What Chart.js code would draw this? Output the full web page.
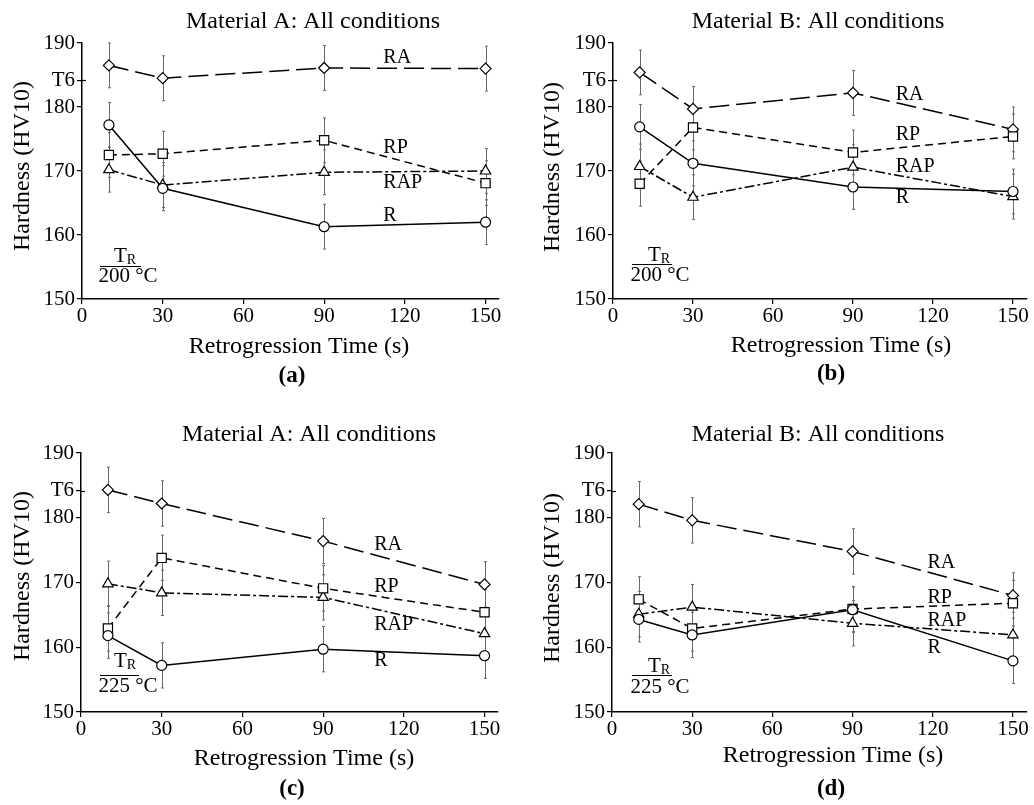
<!DOCTYPE html>
<html lang="en">
<head>
<meta charset="UTF-8">
<title>Hardness vs retrogression time</title>
<script src="https://cdn.jsdelivr.net/npm/chart.js"></script>
<style>
  body { margin: 0; background: #fff; }
  #wrap { position: relative; width: 1034px; height: 805px; }
  canvas { position: absolute; }
</style>
</head>
<body>
<div id="wrap">
  <canvas id="chartA" width="517" height="400" style="left:0;top:0"></canvas>
  <canvas id="chartB" width="517" height="400" style="left:517px;top:0"></canvas>
  <canvas id="chartC" width="517" height="405" style="left:0;top:400px"></canvas>
  <canvas id="chartD" width="517" height="405" style="left:517px;top:400px"></canvas>
</div>
<script>
// retrogression times (s) and axis ticks
const times = [10, 30, 90, 150];
const xTicks = [0, 30, 60, 90, 120, 150];
const yTicks = [150, 160, 170, 180, 190];
const t6Value = 184.2;
const errHalf = 3.5;   // error bar half height (HV10)

const seriesNames = ['R', 'RP', 'RAP', 'RA'];

// (a) Material A, 200 °C
const aR   = [177.2, 167.3, 161.3, 162.0];
const aRP  = [172.5, 172.7, 174.8, 168.1];
const aRAP = [170.2, 167.8, 169.8, 170.0];
const aRA  = [186.5, 184.5, 186.1, 186.0];

// (b) Material B, 200 °C
const bR   = [176.9, 171.2, 167.5, 166.8];
const bRP  = [168.0, 176.8, 172.9, 175.4];
const bRAP = [170.7, 165.9, 170.6, 166.0];
const bRA  = [185.4, 179.7, 182.2, 176.5];

// (c) Material A, 225 °C
const cR   = [161.8, 157.2, 159.7, 158.7];
const cRP  = [162.9, 173.8, 169.1, 165.4];
const cRAP = [169.8, 168.4, 167.7, 162.1];
const cRA  = [184.3, 182.2, 176.4, 169.7];

// (d) Material B, 225 °C
const dR   = [164.3, 161.9, 165.8, 157.9];
const dRP  = [167.4, 162.9, 165.9, 166.8];
const dRAP = [165.1, 166.2, 163.7, 161.9];
const dRA  = [182.1, 179.6, 174.8, 168.0];

// where the series names sit, in data units [x, y] for R, RP, RAP, RA
const aLabelPos = [[112, 163.0], [112, 173.7], [112, 168.1], [112, 187.7]];
const bLabelPos = [[106, 165.8], [106, 175.6], [106, 170.6], [106, 181.9]];
const cLabelPos = [[109, 157.9], [109, 169.3], [109, 163.4], [109, 175.8]];
const dLabelPos = [[118, 160.0], [118, 167.7], [118, 164.1], [118, 173.0]];

const FONT = '"Liberation Serif", "Times New Roman", serif';

const styles = [
  { dash: [],            point: 'circle',   radius: 5 },
  { dash: [8, 5],        point: 'rect',     radius: 6.5 },
  { dash: [10, 3, 3, 3], point: 'triangle', radius: 6 },
  { dash: [20, 7],       point: 'rectRot',  radius: 5.5 }
];

const panels = [
  { id: 'chartA', series: [aR, aRP, aRAP, aRA], labels: aLabelPos,
    title: 'Material A: All conditions', temp: '200 °C', letter: '(a)',
    area: { left: 82, right: 499, top: 43, bottom: 299 },
    titleAt: [313, 22], xTitleAt: [299, 347], yTitleAt: [23, 166], letterAt: [292, 376],
    tr: { cx: 125, ty: 256, line: [100, 141, 266], bx: 128, by: 276 } },
  { id: 'chartB', series: [bR, bRP, bRAP, bRA], labels: bLabelPos,
    title: 'Material B: All conditions', temp: '200 °C', letter: '(b)',
    area: { left: 96, right: 512, top: 43, bottom: 299 },
    titleAt: [301, 22], xTitleAt: [324, 346], yTitleAt: [36, 167], letterAt: [314, 374],
    tr: { cx: 142, ty: 255, line: [115, 155, 264], bx: 143, by: 275 } },
  { id: 'chartC', series: [cR, cRP, cRAP, cRA], labels: cLabelPos,
    title: 'Material A: All conditions', temp: '225 °C', letter: '(c)',
    area: { left: 81, right: 498, top: 53, bottom: 312 },
    titleAt: [309, 35], xTitleAt: [304, 359], yTitleAt: [23, 176], letterAt: [292, 389],
    tr: { cx: 125, ty: 261, line: [100, 139, 275], bx: 128, by: 286 } },
  { id: 'chartD', series: [dR, dRP, dRAP, dRA], labels: dLabelPos,
    title: 'Material B: All conditions', temp: '225 °C', letter: '(d)',
    area: { left: 95, right: 512, top: 53, bottom: 312 },
    titleAt: [301, 35], xTitleAt: [316, 356], yTitleAt: [36, 178], letterAt: [314, 389],
    tr: { cx: 142, ty: 266, line: [115, 155, 275], bx: 143, by: 287 } }
];

const overlay = {
  id: 'overlay',
  beforeDatasetsDraw(chart, args, opts) {
    const ctx = chart.ctx, xs = chart.scales.x, ys = chart.scales.y;
    ctx.save();
    ctx.strokeStyle = '#6a6a6a';
    ctx.lineWidth = 1;
    chart.data.datasets.forEach(ds => {
      ds.data.forEach(p => {
        const px = Math.round(xs.getPixelForValue(p.x)) + 0.5;
        const y1 = ys.getPixelForValue(p.y + errHalf);
        const y2 = ys.getPixelForValue(p.y - errHalf);
        ctx.beginPath();
        ctx.moveTo(px, y1); ctx.lineTo(px, y2);
        ctx.moveTo(px - 1.5, y1); ctx.lineTo(px + 1.5, y1);
        ctx.moveTo(px - 1.5, y2); ctx.lineTo(px + 1.5, y2);
        ctx.stroke();
      });
    });
    // the T6 tick crosses the axis
    const ty = Math.round(ys.getPixelForValue(t6Value)) + 0.5;
    ctx.strokeStyle = '#000';
    ctx.lineWidth = 1.2;
    ctx.beginPath();
    ctx.moveTo(chart.chartArea.left, ty);
    ctx.lineTo(chart.chartArea.left + 4, ty);
    ctx.stroke();
    ctx.restore();
  },
  afterDraw(chart, args, opts) {
    const p = opts.panel;
    const ctx = chart.ctx, xs = chart.scales.x, ys = chart.scales.y;
    ctx.save();
    ctx.fillStyle = '#000';
    ctx.strokeStyle = '#000';
    ctx.textBaseline = 'middle';

    ctx.textAlign = 'center';
    ctx.font = '24px ' + FONT;
    ctx.fillText(p.title, p.titleAt[0], p.titleAt[1]);
    ctx.fillText('Retrogression Time (s)', p.xTitleAt[0], p.xTitleAt[1]);
    ctx.font = 'bold 23px ' + FONT;
    ctx.fillText(p.letter, p.letterAt[0], p.letterAt[1]);

    ctx.save();
    ctx.translate(p.yTitleAt[0], p.yTitleAt[1]);
    ctx.rotate(-Math.PI / 2);
    ctx.font = '24px ' + FONT;
    ctx.fillText('Hardness (HV10)', 0, 0);
    ctx.restore();

    // series names
    ctx.textAlign = 'left';
    ctx.font = '20px ' + FONT;
    seriesNames.forEach((name, i) => {
      const pos = p.labels[i];
      ctx.fillText(name, xs.getPixelForValue(pos[0]), ys.getPixelForValue(pos[1]));
    });

    // T_R over temperature
    const tr = p.tr;
    ctx.font = '21px ' + FONT;
    const tW = ctx.measureText('T').width;
    ctx.font = '14px ' + FONT;
    const rW = ctx.measureText('R').width;
    const startX = tr.cx - (tW + rW) / 2;
    ctx.font = '21px ' + FONT;
    ctx.fillText('T', startX, tr.ty);
    ctx.font = '14px ' + FONT;
    ctx.fillText('R', startX + tW, tr.ty + 4);
    ctx.lineWidth = 1.2;
    ctx.beginPath();
    ctx.moveTo(tr.line[0], tr.line[2] + 0.5);
    ctx.lineTo(tr.line[1], tr.line[2] + 0.5);
    ctx.stroke();
    ctx.textAlign = 'center';
    ctx.font = '21px ' + FONT;
    ctx.fillText(p.temp, tr.bx, tr.by);
    ctx.restore();
  }
};

panels.forEach(p => {
  const canvas = document.getElementById(p.id);
  const W = canvas.width, H = canvas.height;
  const datasets = p.series.map((vals, i) => ({
    label: seriesNames[i],
    data: times.map((t, j) => ({ x: t, y: vals[j] })),
    borderColor: '#000',
    borderWidth: 1.5,
    borderDash: styles[i].dash,
    pointStyle: styles[i].point,
    pointRadius: styles[i].radius,
    pointBackgroundColor: '#fff',
    pointBorderColor: '#000',
    pointBorderWidth: 1.2,
    fill: false,
    tension: 0
  }));

  new Chart(canvas, {
    type: 'line',
    data: { datasets },
    options: {
      responsive: false,
      animation: false,
      layout: { padding: { top: p.area.top, right: W - p.area.right, left: 0, bottom: 0 } },
      plugins: {
        legend: { display: false },
        tooltip: { enabled: false },
        overlay: { panel: p }
      },
      scales: {
        x: {
          type: 'linear',
          min: 0,
          max: 155,
          afterBuildTicks: s => { s.ticks = xTicks.map(v => ({ value: v })); },
          afterFit: s => { s.height = H - p.area.bottom; },
          grid: { drawOnChartArea: false, drawTicks: true, tickLength: 5, color: '#000', lineWidth: 1.2 },
          border: { display: true, color: '#000', width: 1.5 },
          ticks: { color: '#000', padding: 0, maxRotation: 0, font: { family: FONT, size: 21 } }
        },
        y: {
          type: 'linear',
          min: 150,
          max: 190,
          afterBuildTicks: s => {
            s.ticks = yTicks.concat([t6Value]).sort((a, b) => a - b).map(v => ({ value: v }));
          },
          afterFit: s => { s.width = p.area.left; },
          grid: { drawOnChartArea: false, drawTicks: true, tickLength: 5, color: '#000', lineWidth: 1.2 },
          border: { display: true, color: '#000', width: 1.5 },
          ticks: {
            color: '#000', padding: 2, font: { family: FONT, size: 21 },
            callback: v => (v === t6Value ? 'T6' : v)
          }
        }
      }
    },
    plugins: [overlay]
  });
});
</script>
</body>
</html>
